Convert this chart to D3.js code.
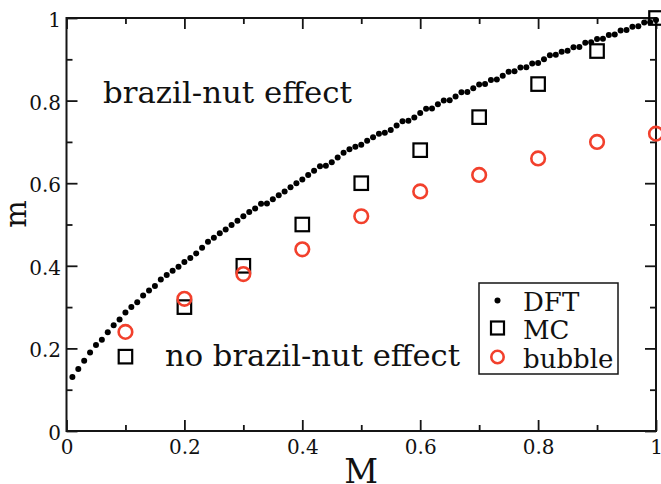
<!DOCTYPE html>
<html>
<head>
<meta charset="utf-8">
<script src="https://cdn.jsdelivr.net/npm/d3@7/dist/d3.min.js"></script>
<style>
  html, body { margin: 0; padding: 0; background: #ffffff; }
  svg { display: block; }
  text { font-family: "DejaVu Serif", serif; fill: #111; }
</style>
</head>
<body>
<svg id="chart" width="661" height="484"></svg>
<script>
// DFT prediction of m, sampled at M = 0.01, 0.02, ..., 1.00
const dftStep = 0.01;
const dftM = [
  0.131, 0.150, 0.170, 0.190, 0.208, 0.221, 0.239, 0.256, 0.270, 0.287,
  0.300, 0.312, 0.328, 0.340, 0.351, 0.367, 0.378, 0.388, 0.398, 0.409,
  0.419, 0.430, 0.444, 0.458, 0.468, 0.479, 0.488, 0.499, 0.509, 0.520,
  0.530, 0.539, 0.550, 0.551, 0.561, 0.571, 0.580, 0.590, 0.600, 0.609,
  0.620, 0.630, 0.641, 0.642, 0.651, 0.662, 0.674, 0.682, 0.688, 0.693,
  0.703, 0.711, 0.720, 0.722, 0.729, 0.740, 0.750, 0.751, 0.759, 0.770,
  0.780, 0.781, 0.791, 0.800, 0.801, 0.810, 0.820, 0.821, 0.830, 0.839,
  0.840, 0.850, 0.851, 0.860, 0.870, 0.871, 0.880, 0.881, 0.890, 0.891,
  0.900, 0.910, 0.911, 0.918, 0.921, 0.929, 0.930, 0.940, 0.941, 0.949,
  0.950, 0.959, 0.960, 0.970, 0.971, 0.979, 0.980, 0.989, 0.990, 0.995
];

// Monte Carlo and bubble-model results
const simM = [0.1, 0.2, 0.3, 0.4, 0.5, 0.6, 0.7, 0.8, 0.9, 1.0];
const mcM = [0.18, 0.30, 0.40, 0.50, 0.60, 0.68, 0.76, 0.84, 0.92, 1.00];
const bubbleM = [0.24, 0.32, 0.38, 0.44, 0.52, 0.58, 0.62, 0.66, 0.70, 0.72];

// Axis ticks
const majorTicks = [0, 0.2, 0.4, 0.6, 0.8, 1];
const minorTicks = [0.1, 0.3, 0.5, 0.7, 0.9];
const tickLabels = ["0", "0.2", "0.4", "0.6", "0.8", "1"];

const legendItems = ["DFT", "MC", "bubble"];
const regionLabels = ["brazil-nut effect", "no brazil-nut effect"];

const red = "#f2402c";
const ink = "#151515";

const svg = d3.select("#chart");
const plot = { left: 66.5, right: 656, top: 18, bottom: 431 };

const x = d3.scaleLinear().domain([0, 1]).range([plot.left, plot.right]);
const y = d3.scaleLinear().domain([0, 1]).range([plot.bottom, plot.top]);

const fmt = d => tickLabels[majorTicks.indexOf(d)];

// Inward-pointing ticks on all four sides
function axisGroup(axisFn, scale, transform, size, values, labels, cls) {
  const a = axisFn(scale).tickValues(values).tickSizeInner(-size).tickSizeOuter(0);
  a.tickFormat(labels ? fmt : () => "");
  const g = svg.append("g").attr("class", cls || null).attr("transform", transform).call(a);
  g.select(".domain").remove();
  g.selectAll(".tick line").attr("stroke", ink).attr("stroke-width", 1.8);
  return g;
}

const xLab = axisGroup(d3.axisBottom, x, `translate(0,${plot.bottom})`, 11, majorTicks, true, "x-axis");
axisGroup(d3.axisBottom, x, `translate(0,${plot.bottom})`, 6, minorTicks, false);
axisGroup(d3.axisTop, x, `translate(0,${plot.top})`, 11, majorTicks, false);
axisGroup(d3.axisTop, x, `translate(0,${plot.top})`, 6, minorTicks, false);
const yLab = axisGroup(d3.axisLeft, y, `translate(${plot.left},0)`, 11, majorTicks, true, "y-axis");
axisGroup(d3.axisLeft, y, `translate(${plot.left},0)`, 6, minorTicks, false);
axisGroup(d3.axisRight, y, `translate(${plot.right},0)`, 11, majorTicks, false);
axisGroup(d3.axisRight, y, `translate(${plot.right},0)`, 6, minorTicks, false);

// Tick label styling
svg.selectAll(".tick text")
  .attr("font-family", "DejaVu Serif, serif")
  .attr("font-size", 20)
  .attr("fill", ink);

xLab.selectAll(".tick text")
  .attr("y", 23).attr("dy", null).attr("text-anchor", "middle");
yLab.selectAll(".tick text")
  .attr("x", -5.5).attr("dy", null).attr("y", 8.5).attr("text-anchor", "end");

// Frame
svg.append("rect")
  .attr("x", plot.left).attr("y", plot.top)
  .attr("width", plot.right - plot.left).attr("height", plot.bottom - plot.top)
  .attr("fill", "none").attr("stroke", ink).attr("stroke-width", 2);

// Axis titles
svg.append("text")
  .attr("x", (plot.left + plot.right) / 2).attr("y", 483)
  .attr("text-anchor", "middle").attr("font-size", 33).text("M");
svg.append("text")
  .attr("transform", "translate(25.5,214) rotate(-90)")
  .attr("text-anchor", "middle").attr("font-size", 29).text("m");

// Region annotations
svg.append("text").attr("x", 103).attr("y", 103)
  .attr("font-size", 29)
  .attr("textLength", 249).attr("lengthAdjust", "spacingAndGlyphs")
  .text(regionLabels[0]);
svg.append("text").attr("x", 165).attr("y", 366)
  .attr("font-size", 29)
  .attr("textLength", 295).attr("lengthAdjust", "spacingAndGlyphs")
  .text(regionLabels[1]);

// DFT dots
svg.append("g").selectAll("circle")
  .data(dftM)
  .join("circle")
  .attr("cx", (d, i) => x((i + 1) * dftStep))
  .attr("cy", d => y(d))
  .attr("r", 3)
  .attr("fill", "#000");

// MC squares
const sq = 13.5;
svg.append("g").selectAll("rect")
  .data(mcM)
  .join("rect")
  .attr("x", (d, i) => x(simM[i]) - sq / 2)
  .attr("y", d => y(d) - sq / 2)
  .attr("width", sq).attr("height", sq)
  .attr("fill", "none").attr("stroke", "#000").attr("stroke-width", 2.2);

// Bubble circles
svg.append("g").selectAll("circle")
  .data(bubbleM)
  .join("circle")
  .attr("cx", (d, i) => x(simM[i]))
  .attr("cy", d => y(d))
  .attr("r", 6.8)
  .attr("fill", "none").attr("stroke", red).attr("stroke-width", 2.6);

// Legend
const lg = svg.append("g");
lg.append("rect").attr("x", 479).attr("y", 283).attr("width", 139).attr("height", 91)
  .attr("fill", "#fff").attr("stroke", ink).attr("stroke-width", 1.5);
const rowY = [300.5, 328, 357];
const markX = 497.5;
lg.append("circle").attr("cx", markX).attr("cy", rowY[0]).attr("r", 3).attr("fill", "#000");
lg.append("rect").attr("x", markX - 6.5).attr("y", rowY[1] - 6.5).attr("width", 13).attr("height", 13)
  .attr("fill", "none").attr("stroke", "#000").attr("stroke-width", 2.2);
lg.append("circle").attr("cx", markX).attr("cy", rowY[2]).attr("r", 6.2)
  .attr("fill", "none").attr("stroke", red).attr("stroke-width", 2.6);
lg.selectAll("text.lab")
  .data(legendItems)
  .join("text")
  .attr("class", "lab")
  .attr("x", 523)
  .attr("y", (d, i) => rowY[i] + 10.5)
  .attr("font-size", 26)
  .text(d => d);
</script>
</body>
</html>
